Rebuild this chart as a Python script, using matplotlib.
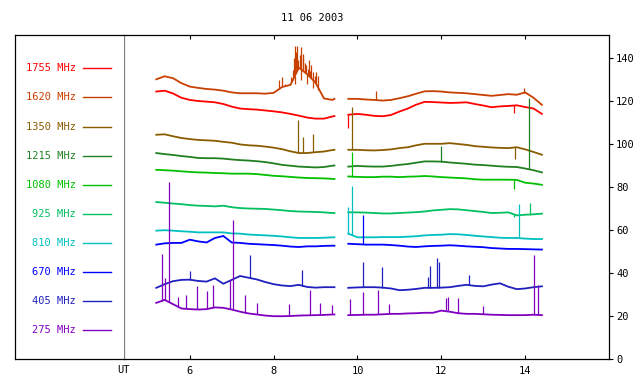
import numpy as np
import matplotlib.pyplot as plt

# --- time grids (UT hours), two observing segments ---
t_a = [5.2, 5.4, 5.6, 5.8, 6.0, 6.2, 6.4, 6.6, 6.8, 7.0, 7.2, 7.4,
       7.6, 7.8, 8.0, 8.2, 8.4, 8.6, 8.8, 9.0, 9.2, 9.4, 9.45]
t_b = [9.78, 10.0, 10.2, 10.4, 10.6, 10.8, 11.0, 11.2, 11.4, 11.6, 11.8, 12.0,
       12.2, 12.4, 12.6, 12.8, 13.0, 13.2, 13.4, 13.6, 13.8, 14.0, 14.2, 14.4]

# --- flux per channel ---
f1755_a = [124.4, 124.8, 123.5, 121.5, 120.5, 120.0, 119.7, 119.4, 118.6, 117.4, 116.5, 116.2,
           116.0, 115.6, 115.2, 114.7, 114.0, 113.2, 112.3, 111.8, 111.8, 112.8, 113.0]
f1755_b = [113.6, 114.0, 113.6, 113.1, 112.9, 113.5, 115.1, 116.5, 118.3, 119.6, 119.5, 119.3,
           119.1, 119.2, 119.4, 118.6, 117.9, 117.1, 117.5, 117.7, 118.0, 117.2, 116.5, 114.0]
f1620_a = [130.1, 131.5, 130.6, 128.3, 126.7, 126.1, 125.6, 125.3, 124.8, 124.0, 123.6, 123.6,
           123.6, 123.4, 123.8, 126.5, 127.5, 135.5, 132.5, 128.5, 121.2, 120.5, 121.0]
f1620_b = [121.0, 121.0, 120.7, 120.5, 120.2, 120.5, 121.3, 122.2, 123.4, 124.5, 124.6, 124.4,
           124.0, 123.8, 123.6, 123.2, 122.8, 122.4, 122.8, 123.2, 122.9, 124.0, 121.5, 118.2]
f1350_a = [104.3, 104.5, 103.6, 102.8, 102.3, 101.9, 101.7, 101.5, 101.0, 100.6, 99.8, 99.4,
           99.2, 98.8, 98.3, 97.6, 96.6, 95.8, 95.8, 96.2, 96.5, 97.2, 97.3]
f1350_b = [97.3, 97.3, 97.1, 97.0, 97.2, 97.5, 98.1, 98.5, 99.4, 100.1, 100.1, 100.1,
           100.4, 100.0, 99.6, 99.0, 98.7, 98.4, 98.2, 98.1, 98.5, 97.5, 96.3, 95.0]
f1215_a = [95.8, 95.3, 94.9, 94.4, 94.0, 93.5, 93.4, 93.4, 93.2, 92.8, 92.5, 92.3,
           92.0, 91.6, 91.0, 90.3, 89.9, 89.5, 89.3, 89.1, 89.3, 89.9, 90.0]
f1215_b = [89.5, 89.8, 89.6, 89.5, 89.5, 89.8, 90.3, 90.7, 91.3, 91.9, 91.9, 91.8,
           91.4, 91.1, 90.8, 90.4, 90.2, 89.9, 89.6, 89.4, 89.3, 88.6, 87.8, 86.8]
f1080_a = [88.0, 87.8, 87.6, 87.3, 87.0, 86.8, 86.7, 86.5, 86.4, 86.2, 86.2, 86.2,
           86.0, 85.6, 85.2, 85.0, 84.7, 84.4, 84.2, 84.1, 84.0, 83.8, 83.7]
f1080_b = [84.9, 84.7, 84.6, 84.6, 84.8, 84.8, 84.6, 84.8, 84.9, 85.1, 84.9, 84.6,
           84.4, 84.2, 84.0, 83.6, 83.4, 83.4, 83.4, 83.4, 83.3, 82.0, 81.6, 81.0]
f925_a = [73.0, 72.7, 72.3, 72.0, 71.6, 71.3, 71.2, 71.0, 71.3, 70.6, 70.2, 70.0,
          69.9, 69.8, 69.5, 69.2, 68.8, 68.6, 68.5, 68.4, 68.2, 67.9, 67.9]
f925_b = [68.2, 68.2, 68.1, 67.9, 67.7, 67.7, 67.9, 68.1, 68.3, 68.6, 69.1, 69.4,
          69.7, 69.6, 69.2, 68.8, 68.4, 67.9, 68.0, 68.2, 66.8, 67.1, 67.3, 67.6]
f810_a = [59.7, 59.9, 59.7, 59.4, 59.2, 58.9, 58.9, 58.9, 58.9, 58.4, 58.3, 57.9,
          57.7, 57.5, 57.3, 57.0, 56.6, 56.3, 56.3, 56.3, 56.4, 56.6, 56.6]
f810_b = [58.3, 56.6, 56.6, 56.6, 56.7, 56.7, 56.7, 56.9, 57.1, 57.5, 57.7, 57.8,
          58.1, 58.0, 57.7, 57.3, 57.0, 56.7, 56.4, 56.3, 56.3, 56.0, 55.8, 55.8]
f670_a = [53.2, 53.8, 54.0, 54.0, 55.5, 54.7, 54.2, 56.3, 57.2, 54.2, 54.0, 53.6,
          53.4, 53.2, 53.0, 52.7, 52.3, 52.1, 52.4, 52.4, 52.6, 52.7, 52.7]
f670_b = [53.6, 53.4, 53.2, 53.2, 53.2, 53.0, 52.7, 52.3, 52.1, 52.4, 52.6, 52.7,
          52.9, 52.7, 52.4, 52.2, 52.0, 51.6, 51.4, 51.2, 51.2, 51.1, 51.0, 50.9]
f405_a = [33.1, 34.8, 36.2, 36.8, 36.9, 36.3, 36.0, 37.5, 35.0, 36.8, 38.6, 37.8,
          37.0, 35.8, 34.8, 34.2, 33.9, 34.5, 33.5, 33.2, 33.4, 33.4, 33.4]
f405_b = [33.1, 33.3, 33.4, 33.4, 33.2, 32.8, 32.0, 32.2, 32.6, 33.1, 33.1, 33.2,
          33.4, 34.0, 34.5, 34.0, 33.8, 34.6, 35.2, 33.6, 32.5, 32.8, 33.4, 33.8]
f275_a = [26.1, 27.5, 25.5, 23.5, 23.2, 23.0, 23.2, 24.0, 23.8, 23.0, 22.0, 21.2,
          20.7, 20.2, 19.9, 19.9, 20.0, 20.2, 20.3, 20.4, 20.5, 20.7, 20.7]
f275_b = [20.4, 20.5, 20.6, 20.6, 20.8, 21.0, 21.0, 21.2, 21.3, 21.5, 21.5, 22.5,
          22.0, 21.3, 21.0, 21.0, 20.8, 20.6, 20.5, 20.4, 20.4, 20.4, 20.6, 20.4]

# --- bursts / spikes: (UT, extreme value) ---
spk1755 = [(9.78, 107.5), (13.74, 114.3)]
spk1620 = [(8.12, 130.0), (8.2, 131.0), (8.28, 128.0), (8.42, 131.0), (8.46, 134.5),
           (8.49, 140.0), (8.52, 145.6), (8.54, 143.0), (8.56, 145.6), (8.59, 139.0),
           (8.62, 141.4), (8.66, 145.0), (8.69, 142.0), (8.71, 139.9), (8.75, 137.5),
           (8.78, 136.8), (8.81, 135.0), (8.84, 139.1), (8.87, 134.0), (8.9, 136.8),
           (8.95, 133.7), (8.98, 131.5), (9.02, 133.7), (9.05, 131.4),
           (8.5, 128.0), (8.65, 130.0), (8.8, 128.0), (8.95, 126.0), (9.05, 125.0),
           (10.44, 124.7), (13.98, 126.0)]
spk1350 = [(8.58, 111.2), (8.71, 103.2), (8.95, 104.7), (9.87, 117.4), (13.76, 93.0)]
spk1215 = [(11.99, 99.2), (14.1, 121.3)]
spk1080 = [(9.87, 96.5), (13.74, 79.0)]
spk925 = [(14.11, 72.4), (13.74, 66.0)]
spk810 = [(9.78, 70.5), (9.87, 80.6), (13.86, 72.2)]
spk670 = [(10.13, 67.1)]
spk405 = [(6.0, 41.0), (7.43, 48.5), (8.67, 41.2), (10.14, 45.0), (10.58, 42.8),
          (11.68, 38.0), (11.73, 43.4), (11.89, 47.0), (11.95, 44.9), (12.67, 39.0)]
spk275 = [(5.34, 49.0), (5.42, 37.7), (5.51, 82.3), (5.72, 29.0), (5.9, 30.0), (6.16, 33.8),
          (6.4, 31.4), (6.56, 34.6), (6.95, 36.9), (7.03, 64.5), (7.32, 30.0), (7.6, 26.0),
          (8.37, 25.7), (8.86, 32.3), (9.1, 26.0), (9.4, 25.0), (9.83, 28.0), (10.14, 31.0),
          (10.5, 32.0), (10.75, 25.8), (12.1, 28.5), (12.15, 28.8), (12.4, 28.5),
          (13.0, 24.5), (14.21, 48.5), (14.3, 34.6)]

labels = ['1755 MHz', '1620 MHz', '1350 MHz', '1215 MHz', '1080 MHz',
          '925 MHz', '810 MHz', '670 MHz', '405 MHz', '275 MHz']
colors = ['#ff0000', '#c84000', '#8a5c00', '#208020', '#00c000',
          '#00c060', '#00c0c0', '#0000ff', '#2020c0', '#8000c0']
seg_a = [f1755_a, f1620_a, f1350_a, f1215_a, f1080_a, f925_a, f810_a, f670_a, f405_a, f275_a]
seg_b = [f1755_b, f1620_b, f1350_b, f1215_b, f1080_b, f925_b, f810_b, f670_b, f405_b, f275_b]
spikes = [spk1755, spk1620, spk1350, spk1215, spk1080, spk925, spk810, spk670, spk405, spk275]

W, H = 640, 384
plt.rcParams['font.family'] = 'DejaVu Sans Mono'
fig = plt.figure(figsize=(W / 100, H / 100), dpi=100)

# frame in pixel coords: left 15, divider 124, right 609, top 35, bottom 359
def fx(px):
    return px / W

def fy(py):
    return 1 - py / H

ax = fig.add_axes([fx(124), fy(359), fx(609) - fx(124), fy(35) - fy(359)])
leg = fig.add_axes([fx(15), fy(359), fx(124) - fx(15), fy(35) - fy(359)])

for vals_a, vals_b, spk, col in zip(seg_a, seg_b, spikes, colors):
    for t, v in ((t_a, vals_a), (t_b, vals_b)):
        ax.plot(t, v, color=col, lw=1.3, solid_joinstyle='miter')
        sp = [s for s in spk if t[0] - 0.05 <= s[0] <= t[-1] + 0.05]
        if sp:
            st = [s[0] for s in sp]
            top = [s[1] for s in sp]
            base = np.interp(st, t, v)
            ax.vlines(st, base, top, color=col, lw=0.9)

ax.set_xlim(4.43, 16.0)
ax.set_ylim(0, 150.7)
ax.set_xticks([6, 8, 10, 12, 14])
ax.set_yticks([0, 20, 40, 60, 80, 100, 120, 140])
ax.tick_params(axis='x', direction='in', top=True, bottom=True, length=3,
               width=0.8, labelsize=7.5, pad=5)
ax.tick_params(axis='y', direction='out', left=False, right=True, labelleft=False,
               labelright=True, length=3, width=0.8, labelsize=7.5, pad=2)
for side in ('top', 'bottom', 'right'):
    ax.spines[side].set_linewidth(0.9)
    ax.spines[side].set_color('black')
ax.spines['left'].set_color('#808080')
ax.spines['left'].set_linewidth(0.9)
ax.text(4.43, -0.018, 'UT', transform=ax.get_xaxis_transform(), ha='center',
        va='top', fontsize=7.5)

# legend panel
leg.set_xlim(15, 124)
leg.set_ylim(359, 35)
leg.set_xticks([])
leg.set_yticks([])
leg.spines['right'].set_visible(False)
for side in ('top', 'bottom', 'left'):
    leg.spines[side].set_linewidth(0.9)
rows = [68, 97, 127, 156, 185, 214, 243, 272, 301, 330]
for lab, col, yy in zip(labels, colors, rows):
    leg.text(76, yy, lab, color=col, ha='right', va='center', fontsize=7.5)
    leg.plot([83, 111], [yy, yy], color=col, lw=1.0)

fig.text(fx(312), fy(18), '11 06 2003', ha='center', va='center', fontsize=7.5)

fig.savefig('out.png', dpi=100)
